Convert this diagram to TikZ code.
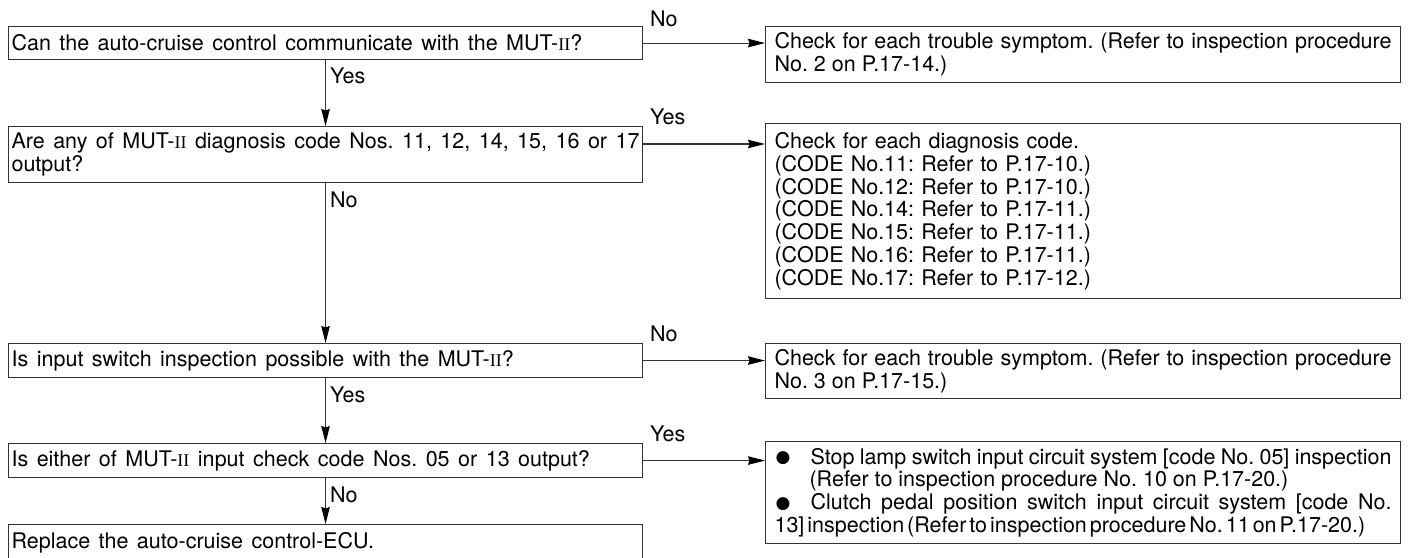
\documentclass[tikz,border=0pt]{standalone}
\usepackage{fontspec}
\setmainfont{TeX Gyre Heros}
\newfontfamily\romanII{Liberation Serif}
\newfontfamily\dejavu{DejaVu Sans}
\usetikzlibrary{arrows.meta,calc}
\newcommand\mutII{MUT-{\romanII\fontsize{18}{20}\selectfont II}}
\newcommand\basefont{\fontsize{21.5}{22.8}\selectfont\frenchspacing\parindent=0pt\hyphenpenalty=10000\exhyphenpenalty=10000\relax}
\newcommand\widespace{\spaceskip=8.5pt plus 4pt minus 2pt\relax}
\newcommand\tightspace{\spaceskip=3pt plus 1pt minus 1pt\relax}
\newcommand\bul{\makebox[36pt][l]{\hspace{1pt}\raisebox{1.5pt}{\dejavu\fontsize{17}{17}\selectfont ●}}}
\begin{document}
\begin{tikzpicture}[x=1pt,y=-1pt,
 lbox/.style={draw=black!80, line width=1.1pt, anchor=north west, inner xsep=3pt, inner ysep=0pt, minimum width=634pt, text width=628pt, align=justify, font=\basefont\widespace},
 rbox/.style={draw=black!80, line width=1.1pt, anchor=north west, inner xsep=9pt, inner ysep=0pt, minimum width=635pt, text width=617pt, align=justify, font=\basefont},
 conn/.style={draw=black!80, line width=1.1pt, -{Stealth[length=17pt,width=8.5pt,inset=1.5pt,color=black,fill=black]}},
 lbl/.style={inner sep=0pt, font=\basefont}]
\useasboundingbox (0,0) rectangle (1411,557);
\clip (0,0) rectangle (1411,557);
% left column
\node[lbox, minimum height=33pt] (b1) at (8,26) {Can the auto-cruise control communicate with the \mutII?};
\node[lbox, minimum height=56pt] (b2) at (8,126) {Are any of \mutII{} diagnosis code Nos. 11, 12, 14, 15, 16 or 17\linebreak output?};
\node[lbox, minimum height=34pt] (b3) at (8,343) {Is input switch inspection possible with the \mutII?};
\node[lbox, minimum height=34pt] (b4) at (8,443) {Is either of \mutII{} input check code Nos. 05 or 13 output?};
\node[lbox, minimum height=36pt] (b5) at (8,524) {Replace the auto-cruise control-ECU.};
% right column
\node[rbox, minimum height=56pt] (r1) at (765,26) {Check for each trouble symptom. (Refer to inspection procedure\linebreak No. 2 on P.17-14.)};
\node[rbox, minimum height=175pt, align=left] (r2) at (765,123) {Check for each diagnosis code.\\
(CODE No.11: Refer to P.17-10.)\\
(CODE No.12: Refer to P.17-10.)\\
(CODE No.14: Refer to P.17-11.)\\
(CODE No.15: Refer to P.17-11.)\\
(CODE No.16: Refer to P.17-11.)\\
(CODE No.17: Refer to P.17-12.)};
\node[rbox, minimum height=55pt] (r3) at (765,343) {Check for each trouble symptom. (Refer to inspection procedure\linebreak No. 3 on P.17-15.)};
\node[rbox, minimum height=102pt] (r4) at (765,441) {\hangindent=35pt\hangafter=1\bul Stop lamp switch input circuit system [code No. 05] inspection\linebreak (Refer to inspection procedure No. 10 on P.17-20.)\par
\hangindent=35pt\hangafter=1\bul Clutch pedal position switch input circuit system [code No.\linebreak {\tightspace 13] inspection (Refer to inspection procedure No. 11 on P.17-20.)}};
% labels
\node[lbl, anchor=base west] (l1) at (650,26) {No};
\node[lbl, anchor=base west] (l2) at (650,124) {Yes};
\node[lbl, anchor=base west] (l3) at (650,341) {No};
\node[lbl, anchor=base west] (l4) at (650,441) {Yes};
\node[lbl, anchor=west] (v1) at (330,76) {Yes};
\node[lbl, anchor=west] (v2) at (330,200) {No};
\node[lbl, anchor=west] (v3) at (330,395) {Yes};
\node[lbl, anchor=west] (v4) at (330,495) {No};
% connectors
\coordinate (a2) at ($(b2.north east)+(0,18)$);
\draw[conn] (b1.east) -- (b1.east -| r1.west);
\draw[conn] (a2) -- (a2 -| r2.west);
\draw[conn] (b3.east) -- (b3.east -| r3.west);
\draw[conn] (b4.east) -- (b4.east -| r4.west);
\draw[conn] (b1.south) -- (b2.north);
\draw[conn] (b2.south) -- (b3.north);
\draw[conn] (b3.south) -- (b4.north);
\draw[conn] (b4.south) -- (b5.north);
\end{tikzpicture}
\end{document}
